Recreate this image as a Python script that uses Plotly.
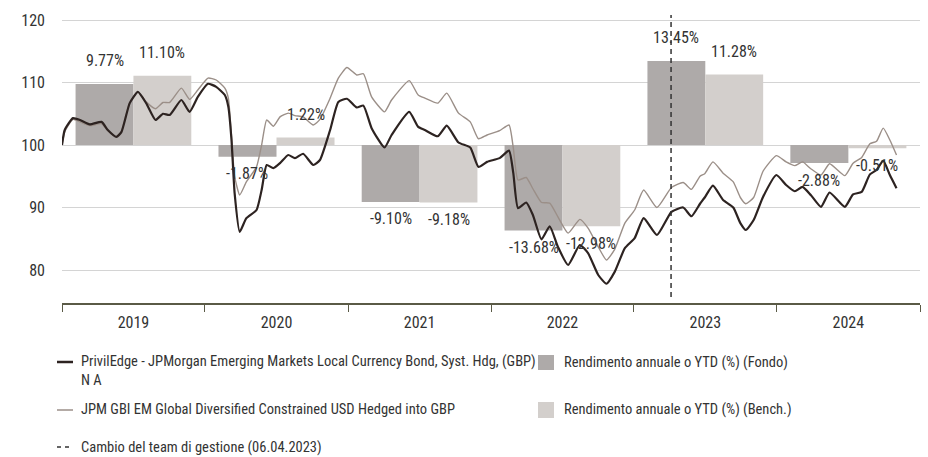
import plotly.graph_objects as go
import pandas as pd

# ---------------- data ----------------
dates = [
    "2019-01-01", "2019-01-08", "2019-01-29", "2019-02-16", "2019-03-13", "2019-04-12",
    "2019-04-28", "2019-05-20", "2019-06-02", "2019-06-23", "2019-07-14", "2019-08-04",
    "2019-08-28", "2019-09-16", "2019-10-03", "2019-11-02", "2019-11-23", "2019-12-14",
    "2020-01-09", "2020-01-30", "2020-02-21", "2020-03-01", "2020-03-09", "2020-03-17",
    "2020-03-30", "2020-04-16", "2020-05-12", "2020-05-25", "2020-06-07", "2020-06-24",
    "2020-07-11", "2020-08-01", "2020-08-18", "2020-09-08", "2020-10-04", "2020-10-21",
    "2020-11-16", "2020-12-07", "2020-12-29", "2021-01-23", "2021-02-09", "2021-03-02",
    "2021-04-04", "2021-04-22", "2021-06-06", "2021-06-29", "2021-07-16", "2021-08-18",
    "2021-09-10", "2021-10-10", "2021-11-09", "2021-11-30", "2021-12-22", "2022-01-23",
    "2022-02-16", "2022-02-27", "2022-03-11", "2022-04-01", "2022-04-18", "2022-05-10",
    "2022-05-31", "2022-06-21", "2022-07-17", "2022-08-16", "2022-09-06", "2022-10-02",
    "2022-10-23", "2022-11-13", "2022-12-09", "2023-01-03", "2023-01-26", "2023-03-01",
    "2023-04-07", "2023-05-07", "2023-05-28", "2023-06-19", "2023-07-01", "2023-07-22",
    "2023-08-17", "2023-09-12", "2023-09-30", "2023-10-14", "2023-11-03", "2023-11-27",
    "2023-12-31", "2024-01-25", "2024-02-16", "2024-03-07", "2024-03-28", "2024-04-23",
    "2024-05-15", "2024-06-23", "2024-07-14", "2024-08-05", "2024-08-26", "2024-09-12",
    "2024-09-29", "2024-10-16", "2024-11-02",
]
fund = [
    100.0, 102.4, 104.3, 104.0, 103.3, 103.7,
    102.4, 101.3, 102.1, 106.7, 108.5, 106.7,
    104.0, 105.0, 104.8, 107.2, 105.3, 107.7,
    109.8, 109.3, 108.0, 106.1, 100.8, 92.3,
    86.1, 88.3, 89.6, 92.8, 96.8, 96.3,
    97.1, 98.4, 97.9, 98.6, 96.8, 97.6,
    102.4, 106.9, 107.4, 106.0, 106.3, 102.7,
    99.6, 101.6, 105.3, 102.9, 102.4, 101.4,
    103.1, 100.4, 99.6, 96.5, 97.3, 97.9,
    99.1, 95.5, 89.9, 90.8, 88.8, 84.9,
    87.0, 83.7, 80.8, 84.0, 82.7, 79.2,
    77.8, 79.7, 83.5, 85.1, 88.3, 85.6,
    89.3, 90.0, 88.6, 90.6, 91.6, 93.5,
    91.2, 90.0, 87.5, 86.4, 88.0, 91.7,
    95.2, 93.6, 92.6, 93.3, 92.0, 90.1,
    92.4, 90.1, 92.1, 92.5, 95.3, 96.0,
    97.5, 95.2, 93.1,
]
bench = [
    100.0, 102.1, 104.1, 103.7, 103.1, 103.4,
    102.3, 101.3, 102.2, 106.8, 108.5, 106.9,
    105.8, 106.8, 106.8, 109.1, 107.3, 108.8,
    110.7, 110.4, 109.1, 107.5, 101.5, 95.0,
    92.0, 94.1, 96.5, 100.0, 104.0, 103.0,
    104.5, 105.1, 104.7, 104.5, 103.2, 104.1,
    107.5, 110.7, 112.4, 111.2, 111.4, 107.7,
    105.3, 107.2, 110.3, 108.0, 107.5, 106.7,
    108.3, 105.1, 103.7, 101.0, 101.6, 102.3,
    103.2, 99.5, 94.4, 94.8, 93.0, 90.8,
    90.7, 88.5, 85.9, 88.1, 86.7, 83.7,
    81.6, 83.3, 87.5, 89.6, 92.8, 90.0,
    93.2, 94.0, 92.9, 95.0, 95.4, 97.3,
    95.5, 94.1, 91.6, 90.6, 91.6, 95.8,
    98.3, 97.3, 96.7, 97.3, 96.2, 95.2,
    97.0, 95.1, 97.1, 98.0, 100.2, 100.6,
    102.7, 100.8, 98.4,
]

years = [2019, 2020, 2021, 2022, 2023, 2024]
fund_returns = [9.77, -1.87, -9.10, -13.68, 13.45, -2.88]
bench_returns = [11.10, 1.22, -9.18, -12.98, 11.28, -0.51]

team_change_date = "2023-04-06"

fund_name = "PrivilEdge - JPMorgan Emerging Markets Local Currency Bond, Syst. Hdg, (GBP)<br>N A"
bench_name = "JPM GBI EM Global Diversified Constrained USD Hedged into GBP"
bar_fund_name = "Rendimento annuale o YTD (%) (Fondo)"
bar_bench_name = "Rendimento annuale o YTD (%) (Bench.)"
team_name = "Cambio del team di gestione (06.04.2023)"

# ---------------- style ----------------
W, H = 928, 457
ML, MR, MT, MB = 62, 8, 10, 154
FONT = "Liberation Sans Narrow, Arial Narrow, Roboto Condensed, Liberation Sans, sans-serif"
TXT = "#333333"
C_FUND = "#2d2321"
C_BENCH = "#9b8f88"
C_BAR_F = "#aeaaa9"
C_BAR_B = "#d3cfcc"
BASE = 100
GROUP_FRAC = 0.81


def px_x(px):
    return (px - ML) / (W - ML - MR)


def px_y(py):
    return (H - MB - py) / (H - MT - MB)


# bar geometry derived from calendar years
f_x, b_x, widths = [], [], []
for y in years:
    start = pd.Timestamp(y, 1, 1)
    length = pd.Timestamp(y + 1, 1, 1) - start
    half = GROUP_FRAC / 4
    f_x.append((start + length * (0.5 - half)).isoformat())
    b_x.append((start + length * (0.5 + half)).isoformat())
    widths.append(length.total_seconds() * 1000 * GROUP_FRAC / 2)

fig = go.Figure()
fig.add_trace(go.Bar(x=f_x, y=fund_returns, base=BASE, width=widths,
                     marker=dict(color=C_BAR_F, line=dict(width=0)), name=bar_fund_name))
fig.add_trace(go.Bar(x=b_x, y=bench_returns, base=BASE, width=widths,
                     marker=dict(color=C_BAR_B, line=dict(width=0)), name=bar_bench_name))
fig.add_trace(go.Scatter(x=dates, y=bench, mode="lines", name=bench_name,
                         line=dict(color=C_BENCH, width=1.4, shape="spline", smoothing=0.5)))
fig.add_trace(go.Scatter(x=dates, y=fund, mode="lines", name=fund_name,
                         line=dict(color=C_FUND, width=2.2, shape="spline", smoothing=0.5)))

annotations = []
for xs, rets in ((f_x, fund_returns), (b_x, bench_returns)):
    for x, r in zip(xs, rets):
        annotations.append(dict(x=x, y=BASE + r, xref="x", yref="y", text=f"{r:.2f}%",
                                showarrow=False, yshift=23 if r > 0 else -17,
                                font=dict(family=FONT, size=16, color=TXT)))

shapes = [dict(type="line", xref="x", yref="paper", x0=team_change_date, x1=team_change_date,
               y0=px_y(297), y1=px_y(15), line=dict(color="#333333", width=1.5, dash="5px,4px"))]

# custom legend
leg_font = dict(family=FONT, size=14.5, color=TXT)
def leg_text(px, py, text):
    annotations.append(dict(x=px_x(px), y=px_y(py), xref="paper", yref="paper", text=text,
                            showarrow=False, xanchor="left", yanchor="middle", align="left",
                            font=leg_font))

shapes.append(dict(type="line", xref="paper", yref="paper", x0=px_x(57), x1=px_x(73),
                   y0=px_y(362), y1=px_y(362), line=dict(color=C_FUND, width=2.5)))
leg_text(79, 370.5, fund_name)
shapes.append(dict(type="line", xref="paper", yref="paper", x0=px_x(57), x1=px_x(73),
                   y0=px_y(410), y1=px_y(410), line=dict(color=C_BENCH, width=1.5)))
leg_text(79, 410, bench_name)
shapes.append(dict(type="line", xref="paper", yref="paper", x0=px_x(57), x1=px_x(70),
                   y0=px_y(447), y1=px_y(447), line=dict(color="#333333", width=1.5, dash="4px,4px")))
leg_text(79, 447, team_name)
shapes.append(dict(type="rect", xref="paper", yref="paper", x0=px_x(538), x1=px_x(554),
                   y0=px_y(370), y1=px_y(355), fillcolor=C_BAR_F, line=dict(width=0)))
leg_text(562, 362, bar_fund_name)
shapes.append(dict(type="rect", xref="paper", yref="paper", x0=px_x(538), x1=px_x(554),
                   y0=px_y(418), y1=px_y(402), fillcolor=C_BAR_B, line=dict(width=0)))
leg_text(562, 410, bar_bench_name)

y_top = BASE + (145 - MT) / 6.25
y_bot = BASE - (H - MB - 145) / 6.25

fig.update_layout(
    width=W, height=H, autosize=False,
    margin=dict(l=ML, r=MR, t=MT, b=MB, pad=0),
    paper_bgcolor="white", plot_bgcolor="white",
    showlegend=False, barmode="overlay",
    font=dict(family=FONT, size=16, color=TXT),
    annotations=annotations, shapes=shapes,
    xaxis=dict(type="date", range=["2019-01-01", "2025-01-01"], tick0="2019-01-01", dtick="M12",
               ticklabelmode="period", tickformat="%Y", ticks="outside", ticklen=7, tickwidth=1.2,
               tickcolor="#5a5a46", showline=True, linecolor="#5a5a46", linewidth=1.5,
               showgrid=False, zeroline=False, ticklabelstandoff=-3,
               tickfont=dict(family=FONT, size=16, color=TXT)),
    yaxis=dict(range=[y_bot, y_top], tick0=80, dtick=10, showgrid=True, gridcolor="#d4d4d4",
               gridwidth=1.2, zeroline=False, showline=False, ticks="", ticklabelstandoff=16,
               tickfont=dict(family=FONT, size=16, color=TXT)),
)

fig.write_html("out.html")
